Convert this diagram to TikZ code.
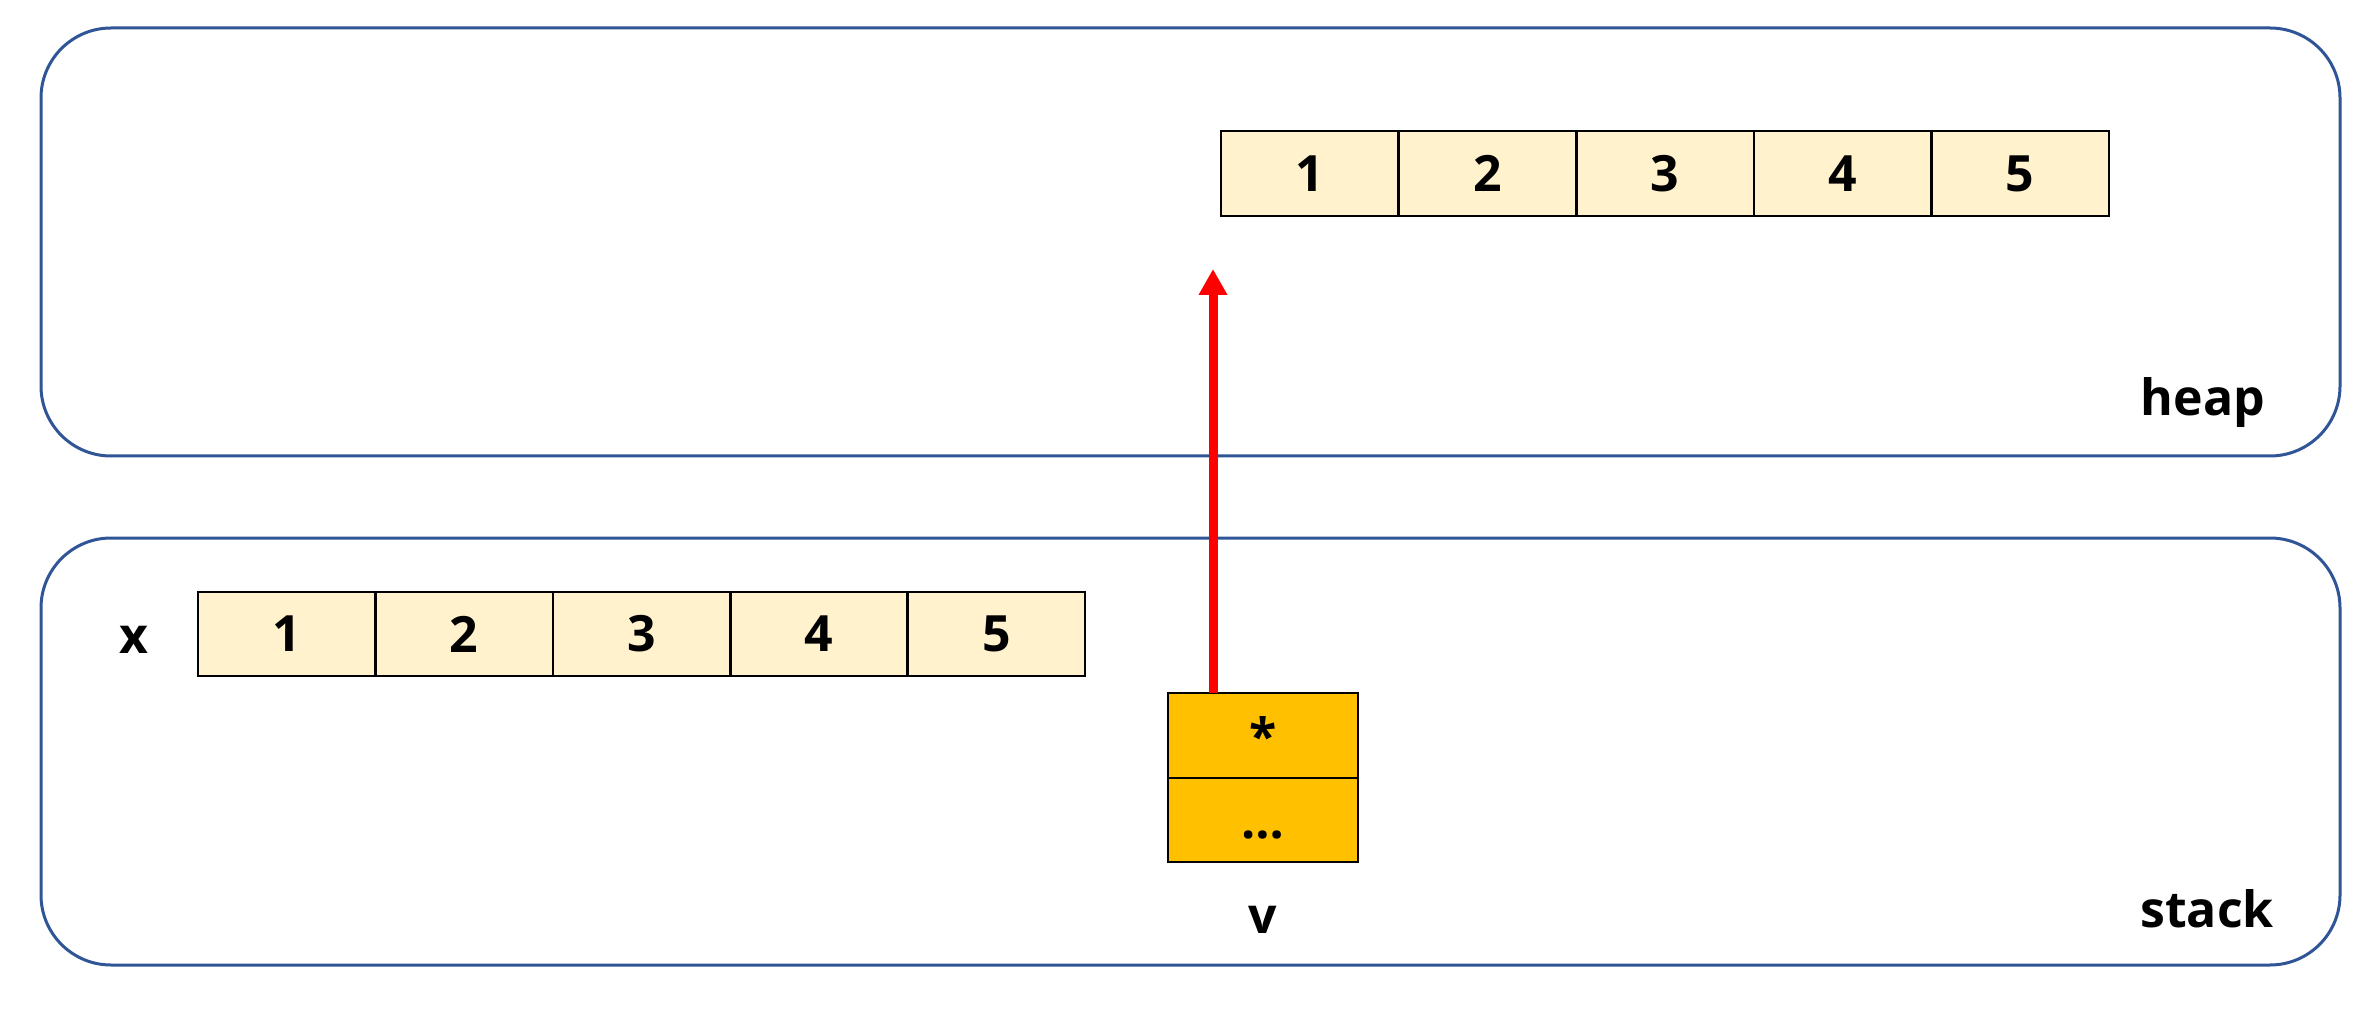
\documentclass[tikz,border=0pt]{standalone}
\usepackage{fontspec}
\setmainfont{Open Sans}
\usetikzlibrary{arrows.meta}
\definecolor{framecol}{HTML}{2F5597}
\definecolor{cellfill}{HTML}{FFF2CC}
\definecolor{ptrfill}{HTML}{FFC000}
\definecolor{ptrred}{HTML}{FF0000}
\tikzset{
  region/.style={draw=framecol, line width=1.5pt, rounded corners=35pt, inner sep=0pt, outer sep=0pt},
  cell/.style={draw=black, line width=1.3pt, fill=cellfill, minimum width=88.8pt, minimum height=42.5pt, inner sep=0pt, outer sep=0pt, font=\fontsize{25}{30}\selectfont\bfseries},
  vcell/.style={draw=black, line width=1.3pt, fill=ptrfill, minimum width=95pt, minimum height=42.5pt, inner sep=0pt, outer sep=0pt, font=\fontsize{25}{30}\selectfont\bfseries},
  lbl/.style={inner sep=0pt, font=\fontsize{25}{30}\selectfont\bfseries},
  ptr/.style={draw=ptrred, line width=4.5pt, -{Triangle[length=13pt,width=13.5pt]}}
}
\begin{document}
\begin{tikzpicture}[x=0.5pt,y=-0.5pt]
\useasboundingbox (0,0) rectangle (2372,1021);
% regions
\node[region, minimum width=1149.5pt, minimum height=214pt] (heap) at (1190.5,242) {};
\node[region, minimum width=1149.5pt, minimum height=213.5pt] (stack) at (1190.5,751.5) {};
\node[lbl, anchor=base] (heaplbl) at (2203,416) {heap};
\node[lbl, anchor=base] (stacklbl) at (2207,927) {stack};
% heap array
\foreach \i in {1,...,5} {
  \node[cell] (h\i) at ({1221+88.8+177.6*(\i-1)},173.5) {\i};
}
% stack array
\foreach \i in {1,...,5} {
  \node[cell, minimum width=88.7pt, minimum height=42pt] (s\i) at ({198+88.7+177.4*(\i-1)},634) {\i};
}
\node[lbl] (xlbl) at (134,640) {x};
% vector v
\node[vcell] (vptr) at (1263,735.5) {*};
\node[vcell, minimum height=42pt] (vrest) at (1263,820) {\smash{\raisebox{-9pt}{…}}};
\node[lbl] (vlbl) at (1263,920) {v};
% pointer
\coordinate (tipend) at (1213,269);
\draw[ptr] (vptr.north -| tipend) -- (tipend);
\end{tikzpicture}
\end{document}
